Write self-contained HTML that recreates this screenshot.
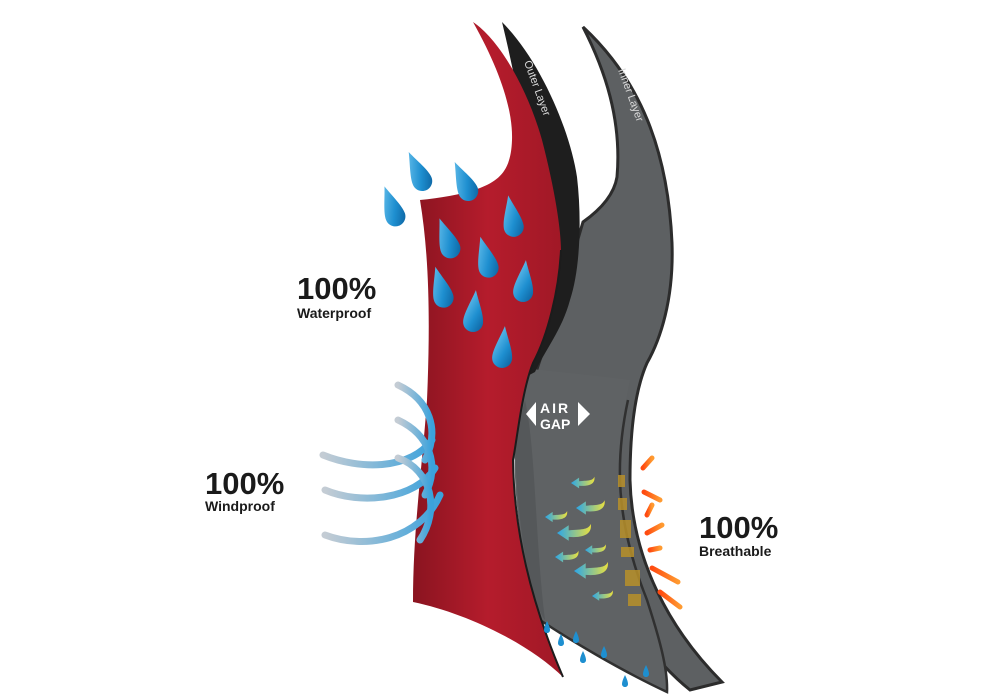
<!DOCTYPE html>
<html><head><meta charset="utf-8"><style>
html,body{margin:0;padding:0;background:#fff;}
svg{display:block}
.t{font-family:"Liberation Sans",Arial,sans-serif;font-weight:bold;fill:#1a1a1a}
</style></head><body>
<svg width="1000" height="700" viewBox="0 0 1000 700" xmlns="http://www.w3.org/2000/svg">
<defs>
<linearGradient id="red" x1="0" y1="0" x2="1" y2="0">
<stop offset="0" stop-color="#8a1420"/><stop offset="0.5" stop-color="#b51c2c"/><stop offset="1" stop-color="#a01826"/>
</linearGradient>
<linearGradient id="drop" x1="0" y1="0" x2="1" y2="1">
<stop offset="0" stop-color="#7fd0f5"/><stop offset="0.6" stop-color="#1e8fd0"/><stop offset="1" stop-color="#0b5f9c"/>
</linearGradient>
<linearGradient id="wind" x1="0" y1="0" x2="1" y2="0">
<stop offset="0" stop-color="#c4ccd4"/><stop offset="1" stop-color="#3ba2dc"/>
</linearGradient>
<linearGradient id="ba" x1="0" y1="0" x2="1" y2="0">
<stop offset="0" stop-color="#2ba6e8"/><stop offset="1" stop-color="#e8e040"/>
</linearGradient>
<linearGradient id="or" x1="0" y1="0" x2="1" y2="0">
<stop offset="0" stop-color="#ff4a10"/><stop offset="1" stop-color="#ff9a30"/>
</linearGradient>
<g id="d"><path d="M0,-22 C4,-10 10,2 10,10 C10,16 5,20 0,20 C-5,20 -10,16 -10,10 C-10,2 -4,-10 0,-22 Z" fill="url(#drop)"/></g>
<g id="sd"><path d="M0,-6 C2,-2 3,1 3,3 C3,5 1.5,6 0,6 C-1.5,6 -3,5 -3,3 C-3,1 -2,-2 0,-6Z" fill="#1e8fd0"/></g>
<g id="ar"><path d="M0,0 L9,-6 L9,-2 C18,-3 24,-2 26,-7 C27,0 22,4 9,3 L9,6 Z" fill="url(#ba)"/></g>
</defs>

<!-- inner layer (back) -->
<path d="M583,27 C640,80 668,150 672,243 C674,300 660,340 647,363 C635,390 630,430 630,480 C632,560 670,630 722,682 L690,690 C640,650 600,580 560,500 L520,420 L560,300 L583,222 C600,210 614,195 617,177 C622,120 605,70 583,27 Z" fill="#5d6062" stroke="#2c2c2c" stroke-width="3"/>
<!-- outer gray lower part -->
<path d="M522,368 C560,372 600,376 630,380 C615,450 615,520 647,600 C660,640 668,670 667,692 C620,670 570,640 540,620 C525,580 512,500 515,440 Z" fill="#5f6264"/>
<path d="M628,400 C615,460 615,520 647,600 C660,640 668,670 667,692 C620,670 570,640 540,620" fill="none" stroke="#303030" stroke-width="2.5"/>
<path d="M525,400 C536,450 535,540 545,620 C530,600 516,520 515,440 Z" fill="#55585a"/>
<!-- black band -->
<path d="M502,22 C540,60 570,130 577,177 C582,220 580,270 570,300 C562,330 545,350 535,372 L520,380 C540,300 545,200 502,22 Z" fill="#1e1e1e"/>
<text x="0" y="0" transform="translate(524,62) rotate(70)" font-family="Liberation Sans,sans-serif" font-size="11" fill="#ddd">Outer Layer</text>
<text x="0" y="0" transform="translate(618,70) rotate(70)" font-family="Liberation Sans,sans-serif" font-size="11" fill="#d8d8d8">Inner Layer</text>

<!-- red layer -->
<path d="M473,22 C500,40 528,90 542,140 C555,190 561,230 561,250 C559,290 548,335 533,363 C522,390 517,440 513,460 C514,530 530,600 563,677 C530,645 470,614 413,602 C413,530 422,470 427,400 C430,330 430,260 420,200 C440,198 460,195 480,188 C500,180 511,170 512,140 C513,110 500,70 473,22 Z" fill="url(#red)"/>
<path d="M561,250 C559,290 548,335 533,363 C522,390 517,440 513,460 C514,530 530,600 563,677" fill="none" stroke="#1c1c1c" stroke-width="2"/>

<!-- AIR GAP -->
<text class="t" x="540" y="413" font-size="14" style="fill:#fff;letter-spacing:2px">AIR</text>
<text class="t" x="540" y="429" font-size="14" style="fill:#fff">GAP</text>
<path d="M536,402 L526,414 L536,426 Z" fill="#fff"/>
<path d="M578,402 L590,414 L578,426 Z" fill="#fff"/>

<!-- water drops -->
<use href="#d" transform="translate(418,172) rotate(-25)"/>
<use href="#d" transform="translate(464,182) rotate(-25)"/>
<use href="#d" transform="translate(392,207) rotate(-20)"/>
<use href="#d" transform="translate(512,217) rotate(-10)"/>
<use href="#d" transform="translate(447,239) rotate(-20)"/>
<use href="#d" transform="translate(486,258) rotate(-15)"/>
<use href="#d" transform="translate(441,288) rotate(-15)"/>
<use href="#d" transform="translate(524,282) rotate(5)"/>
<use href="#d" transform="translate(474,312) rotate(5)"/>
<use href="#d" transform="translate(503,348) rotate(5)"/>
<use href="#sd" transform="translate(547,627)"/>
<use href="#sd" transform="translate(561,640)"/>
<use href="#sd" transform="translate(576,637)"/>
<use href="#sd" transform="translate(583,657)"/>
<use href="#sd" transform="translate(604,652)"/>
<use href="#sd" transform="translate(625,681)"/>
<use href="#sd" transform="translate(646,671)"/>

<!-- wind -->
<g fill="none" stroke="url(#wind)" stroke-width="7" stroke-linecap="round">
<path d="M323,455 C360,470 410,470 432,440"/>
<path d="M325,490 C360,505 415,500 435,468"/>
<path d="M325,535 C365,550 420,540 440,495"/>
<path d="M398,385 C430,400 440,430 425,460"/>
<path d="M398,420 C430,435 440,465 425,495"/>
<path d="M398,458 C432,470 440,510 420,540"/>
</g>

<!-- breath arrows -->
<use href="#ar" transform="translate(571,483) scale(0.9)"/>
<use href="#ar" transform="translate(576,508) scale(1.1)"/>
<use href="#ar" transform="translate(545,517) scale(0.85)"/>
<use href="#ar" transform="translate(557,533) scale(1.3)"/>
<use href="#ar" transform="translate(585,550) scale(0.8)"/>
<use href="#ar" transform="translate(555,557) scale(0.9)"/>
<use href="#ar" transform="translate(574,571) scale(1.3)"/>
<use href="#ar" transform="translate(592,596) scale(0.8)"/>
<g fill="#b8902a" opacity="0.85">
<rect x="618" y="475" width="7" height="12"/><rect x="618" y="498" width="9" height="12"/>
<rect x="620" y="520" width="11" height="18"/><rect x="621" y="547" width="13" height="10"/>
<rect x="625" y="570" width="15" height="16"/><rect x="628" y="594" width="13" height="12"/>
</g>
<g stroke="url(#or)" stroke-width="5" stroke-linecap="round">
<path d="M643,468 L652,458"/><path d="M644,492 L660,500"/><path d="M647,515 L652,505"/>
<path d="M647,533 L662,525"/><path d="M650,550 L660,548"/><path d="M652,568 L678,582"/>
<path d="M660,592 L680,607"/>
</g>

<!-- labels -->
<text class="t" x="297" y="299" font-size="31">100%</text>
<text class="t" x="297" y="318" font-size="14">Waterproof</text>
<text class="t" x="205" y="494" font-size="31">100%</text>
<text class="t" x="205" y="511" font-size="14">Windproof</text>
<text class="t" x="699" y="538" font-size="31">100%</text>
<text class="t" x="699" y="556" font-size="14">Breathable</text>
</svg>
</body></html>
